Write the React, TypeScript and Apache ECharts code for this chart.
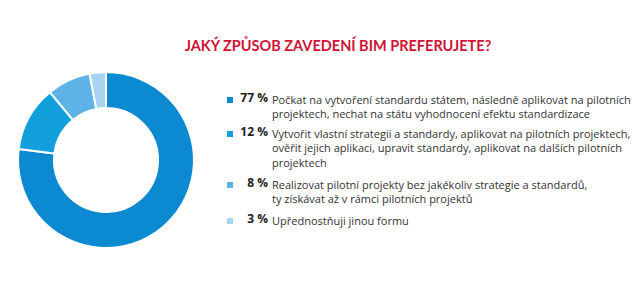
import React, { useEffect, useRef } from "react";
import * as echarts from "echarts";

const title = "JAKÝ ZPŮSOB ZAVEDENÍ BIM PREFERUJETE?";
const values = [77, 12, 8, 3];
const labels = [
  "Počkat na vytvoření standardu státem, následně aplikovat na pilotních\nprojektech, nechat na státu vyhodnocení efektu standardizace",
  "Vytvořit vlastní strategii a standardy, aplikovat na pilotních projektech,\nověřit jejich aplikaci, upravit standardy, aplikovat na dalších pilotních\nprojektech",
  "Realizovat pilotní projekty bez jakékoliv strategie a standardů,\nty získávat až v rámci pilotních projektů",
  "Upřednostňuji jinou formu",
];
const colors = ["#0b89d1", "#12a0dd", "#5db3e6", "#a8d4f2"];

const FONT = "Open Sans";

export default function App() {
  const ref = useRef<HTMLDivElement>(null);
  useEffect(() => {
    const chart = echarts.init(ref.current!, null, { renderer: "svg" });
    const rowTops = [92, 126, 177, 213];
    const lineH = 14.5;
    const graphic: any[] = [];
    values.forEach((v, i) => {
      const y = rowTops[i];
      graphic.push({
        type: "rect",
        shape: { x: 227, y: y + 5, width: 6, height: 6 },
        style: { fill: colors[i] },
      });
      graphic.push({
        type: "text",
        x: 268,
        y: y - 0.5,
        style: {
          text: v + " %",
          fill: "#222",
          fontFamily: FONT,
          fontWeight: "bold",
          fontSize: 12,
          align: "right",
          verticalAlign: "top",
        },
      });
      graphic.push({
        type: "text",
        x: 272,
        y: y,
        style: {
          text: labels[i],
          fill: "#333",
          fontFamily: FONT,
          fontSize: 11,
          lineHeight: lineH,
          align: "left",
          verticalAlign: "top",
        },
      });
    });
    chart.setOption({
      animation: false,
      backgroundColor: "#fff",
      title: {
        text: title,
        left: 333,
        top: 33,
        textAlign: "center",
        textStyle: { color: "#cf1236", fontFamily: "Lato", fontWeight: "bold", fontSize: 14.5 },
      },
      color: colors,
      series: [
        {
          type: "pie",
          center: [106, 160],
          radius: [52, 88],
          startAngle: 90,
          clockwise: true,
          label: { show: false },
          labelLine: { show: false },
          emphasis: { disabled: true },
          itemStyle: { borderColor: "#fff", borderWidth: 2 },
          data: values.map((v, i) => ({ value: v, name: v + " %" })),
        },
      ],
      graphic,
    });
    return () => chart.dispose();
  }, []);
  return (
    <div
      ref={ref}
      style={{ position: "fixed", left: 0, top: 0, width: 640, height: 295, background: "#fff" }}
    />
  );
}
